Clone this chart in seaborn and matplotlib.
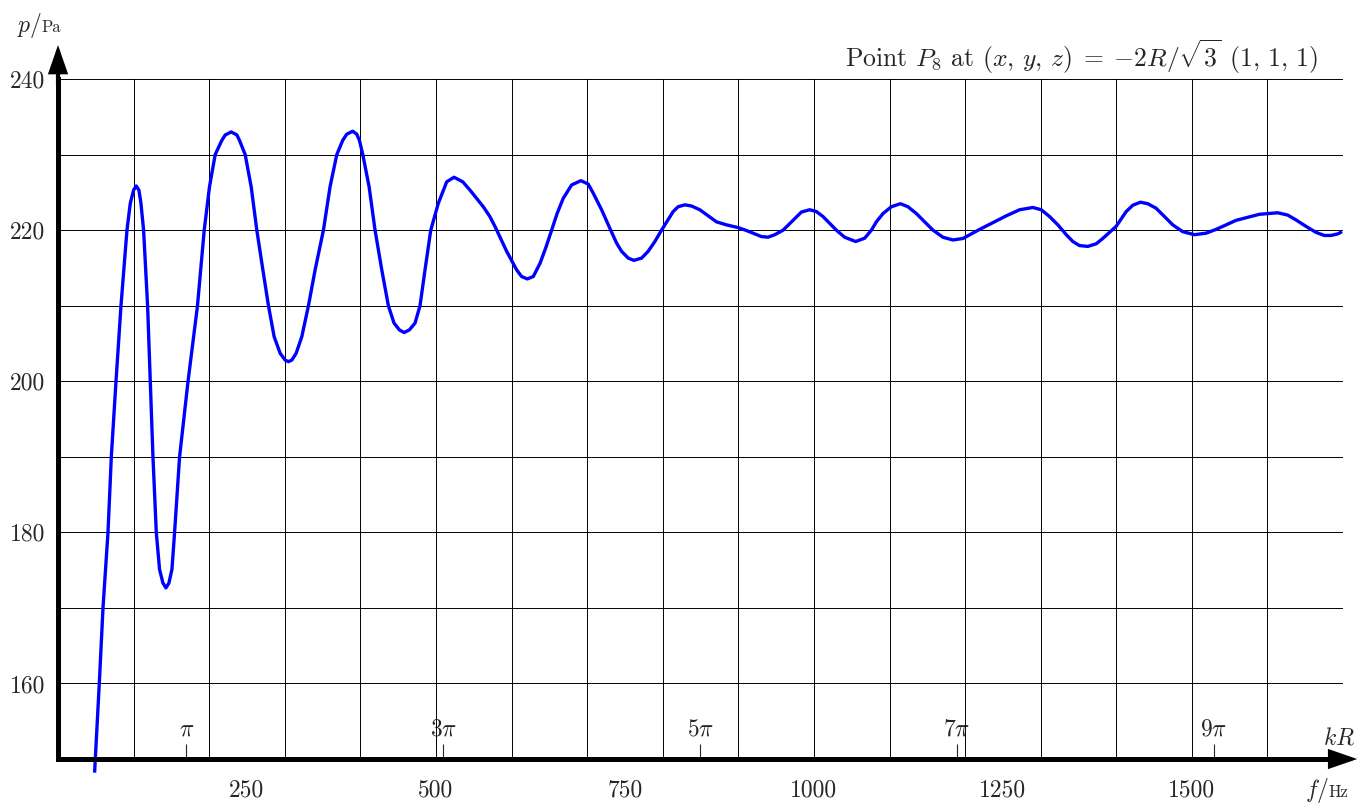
import matplotlib
matplotlib.use("Agg")
import matplotlib.pyplot as plt
import seaborn as sns
import numpy as np

# sound pressure at point P8 (f in Hz, p in Pa)
freq_hz = [
    48.4, 49.3, 54.6, 59.5, 66.1, 70.5, 76.7, 83.3, 91.2, 95.6,
    100.0, 103.5, 107.0, 109.7, 113.2, 118.5, 122.0, 125.6, 130.0, 134.3,
    138.8, 142.8, 146.7, 150.7, 154.2, 160.8, 172.0, 178.0, 184.5, 193.4,
    200.4, 207.9, 216.8, 221.2, 229.1, 236.6, 240.0, 247.6, 255.5, 263.0,
    271.0, 278.4, 285.9, 293.9, 300.5, 304.8, 309.3, 315.0, 322.5, 331.3,
    340.1, 351.1, 359.9, 368.8, 376.7, 382.0, 389.9, 395.2, 398.7, 403.2,
    411.5, 419.4, 428.3, 437.0, 444.5, 451.6, 457.8, 464.8, 472.3, 478.9,
    485.5, 493.1, 503.1, 514.2, 523.9, 535.4, 545.0, 562.6, 571.3, 578.0,
    593.5, 606.7, 613.3, 620.8, 628.7, 637.6, 645.5, 653.0, 660.4, 668.3,
    679.4, 691.7, 701.4, 708.0, 719.1, 730.0, 738.9, 745.5, 754.3, 761.8,
    772.0, 780.7, 789.6, 798.4, 813.7, 820.4, 829.2, 838.0, 849.0, 860.0,
    871.1, 884.3, 899.7, 910.8, 919.5, 930.6, 939.3, 948.2, 959.2, 970.3,
    983.5, 994.4, 1003.3, 1012.0, 1020.9, 1029.7, 1040.7, 1055.2, 1067.1, 1076.0,
    1082.6, 1091.4, 1102.5, 1114.4, 1124.4, 1135.5, 1146.5, 1157.5, 1170.7, 1183.9,
    1197.1, 1219.2, 1236.8, 1254.5, 1272.1, 1289.7, 1300.7, 1311.7, 1322.7, 1333.8,
    1342.5, 1351.3, 1362.3, 1373.5, 1382.1, 1391.0, 1399.8, 1413.0, 1421.8, 1432.0,
    1441.6, 1452.7, 1463.7, 1474.7, 1487.9, 1503.4, 1518.8, 1532.0, 1558.5, 1589.3,
    1613.5, 1626.7, 1637.8, 1651.0, 1664.3, 1675.2, 1684.1, 1692.8, 1698.6,
]
pressure_pa = [
    148.2, 150.0, 160.0, 170.0, 180.0, 190.0, 200.0, 210.0, 220.0, 223.56,
    225.3, 225.85, 225.3, 223.56, 220.0, 210.0, 200.0, 190.0, 180.0, 175.1,
    173.3, 172.65, 173.3, 175.1, 180.0, 190.0, 200.0, 204.8, 210.0, 220.0,
    225.76, 230.0, 231.9, 232.6, 233.0, 232.6, 231.9, 230.0, 225.76, 220.0,
    214.74, 210.0, 205.9, 203.7, 202.8, 202.6, 202.8, 203.7, 205.9, 210.0,
    214.74, 220.0, 225.76, 230.0, 231.9, 232.7, 233.1, 232.7, 231.9, 230.0,
    225.76, 220.0, 214.74, 210.0, 207.7, 206.8, 206.45, 206.8, 207.7, 210.0,
    214.74, 220.0, 223.56, 226.4, 227.0, 226.4, 225.3, 223.1, 221.8, 220.5,
    217.2, 214.75, 213.86, 213.55, 213.86, 215.6, 217.74, 220.0, 222.24, 224.2,
    225.98, 226.55, 226.1, 224.9, 222.7, 220.25, 218.3, 217.2, 216.3, 216.0,
    216.3, 217.2, 218.5, 220.0, 222.45, 223.1, 223.35, 223.2, 222.7, 221.9,
    221.1, 220.7, 220.34, 219.95, 219.6, 219.15, 219.07, 219.4, 220.0, 221.1,
    222.4, 222.7, 222.46, 221.8, 220.9, 220.0, 219.06, 218.5, 218.93, 220.0,
    221.1, 222.2, 223.1, 223.5, 223.1, 222.2, 221.1, 220.0, 219.06, 218.7,
    218.9, 220.1, 221.0, 221.9, 222.7, 223.0, 222.7, 221.8, 220.7, 219.4,
    218.5, 217.96, 217.85, 218.2, 218.9, 219.7, 220.5, 222.45, 223.3, 223.7,
    223.5, 222.9, 221.8, 220.7, 219.8, 219.4, 219.6, 220.1, 221.3, 222.1,
    222.3, 222.0, 221.35, 220.5, 219.7, 219.3, 219.3, 219.5, 219.8,
]

f_ticks = [250, 500, 750, 1000, 1250, 1500]
p_ticks = [160, 180, 200, 220, 240]
kr_odd = [1, 3, 5, 7, 9]
kr_labels = [r"$\pi$", r"$3\pi$", r"$5\pi$", r"$7\pi$", r"$9\pi$"]
hz_per_pi = 169.9  # frequency where kR = pi

sns.set_style("white")
plt.rcParams["font.family"] = ["cmr10", "DejaVu Serif"]
plt.rcParams["mathtext.fontset"] = "cm"
plt.rcParams["axes.unicode_minus"] = False
plt.rcParams["axes.formatter.use_mathtext"] = True

fig = plt.figure(figsize=(13.62, 8.05), dpi=100)
ax = fig.add_axes([0.0426, 0.0571, 0.9435, 0.8447])

sns.lineplot(x=freq_hz, y=pressure_pa, ax=ax, color="#0000ff", lw=2.4,
             clip_on=False, zorder=5, solid_joinstyle="round",
             solid_capstyle="butt")

ax.set_xlim(0, 1700)
ax.set_ylim(150, 240)

# grid every 100 Hz / 10 Pa (keep the minor lines under the labelled ticks)
ax.xaxis.remove_overlapping_locs = False
ax.yaxis.remove_overlapping_locs = False
ax.set_xticks(np.arange(0, 1701, 100), minor=True)
ax.set_yticks(np.arange(150, 241, 10), minor=True)
ax.grid(False)
ax.grid(True, which="minor", color="black", lw=0.7)
ax.set_xticks(f_ticks, [str(v) for v in f_ticks])
ax.set_yticks(p_ticks, [str(v) for v in p_ticks])
ax.tick_params(which="minor", length=0)
ax.tick_params(axis="x", which="major", direction="out", length=11, width=0.8,
               pad=4, labelsize=17, color="black")
ax.tick_params(axis="y", which="major", direction="out", length=6, width=0.8,
               pad=3, labelsize=17, color="black")

for side in ["top", "right"]:
    ax.spines[side].set_visible(False)
for side in ["left", "bottom"]:
    ax.spines[side].set_linewidth(3.6)
    ax.spines[side].set_color("black")
    ax.spines[side].set_capstyle("projecting")
    ax.spines[side].set_zorder(6)

# axis arrows
arrow = dict(arrowstyle="-|>,head_length=0.75,head_width=0.26", lw=3.0,
             color="black", mutation_scale=20, shrinkA=0, shrinkB=0,
             joinstyle="miter")
ax.annotate("", xy=(0, 1.05), xytext=(0, 0.99), xycoords="axes fraction",
            arrowprops=arrow, annotation_clip=False)
ax.annotate("", xy=(1.011, 0), xytext=(0.99, 0), xycoords="axes fraction",
            arrowprops=arrow, annotation_clip=False)

# kR scale drawn on the inside of the bottom axis
sec = ax.secondary_xaxis(0.0, functions=(lambda f: f * np.pi / hz_per_pi,
                                         lambda k: k * hz_per_pi / np.pi))
sec.set_alignment("top")
sec.spines["top"].set_visible(False)
sec.spines["bottom"].set_visible(False)
sec.set_xticks([n * np.pi for n in kr_odd], kr_labels)
sec.tick_params(direction="out", length=11, width=0.8, pad=2, labelsize=17)

ax.text(0.9969, 0.031, r"$kR$", transform=ax.transAxes, ha="center",
        va="center", fontsize=17)
ax.text(0.9805, 1.0176,
        r"Point $P_8$ at $(x,\,y,\,z)\;=\;{-}2R/\sqrt{3}\;\,(1,\,1,\,1)$",
        transform=ax.transAxes, ha="right", va="baseline", fontsize=18.5)

fig.text(0.0125, 0.960, r"$p/$", ha="left", va="baseline", fontsize=17)
fig.text(0.0305, 0.960, "Pa", ha="left", va="baseline", fontsize=12)
fig.text(0.958, 0.0099, r"$f/$", ha="left", va="baseline", fontsize=17)
fig.text(0.9755, 0.0099, "Hz", ha="left", va="baseline", fontsize=12)

fig.savefig("out.png", dpi=100)
